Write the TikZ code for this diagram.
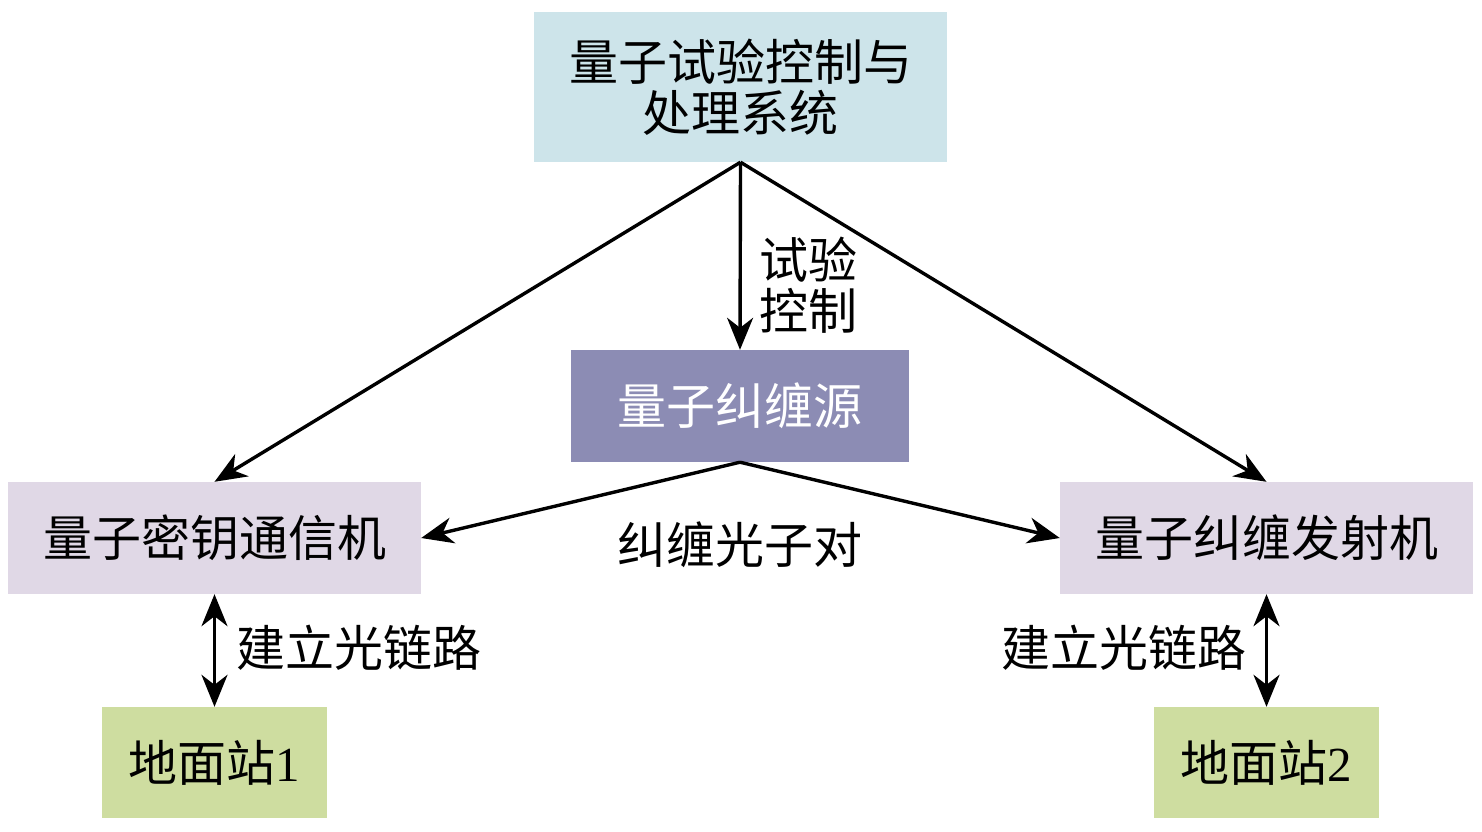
\documentclass[tikz,border=0pt]{standalone}
\usepackage{fontspec}
\setmainfont{Liberation Serif}
\newfontfamily\cjk{Noto Sans CJK SC}
\usetikzlibrary{arrows.meta}
\definecolor{ctrlblue}{RGB}{205,228,234}
\definecolor{srcpurple}{RGB}{140,140,180}
\definecolor{devlilac}{RGB}{224,216,230}
\definecolor{gsgreen}{RGB}{206,221,160}

\begin{document}
\begin{tikzpicture}
  [x=1pt,y=-1pt,every node/.style={inner sep=0pt,font=\fontsize{49}{51}\selectfont\cjk},
   box/.style={rectangle,align=center},
   link/.style={line width=3.4pt,-{Stealth[length=32pt,width=26pt,inset=10pt]}},
   duplex/.style={line width=3.4pt,{Stealth[length=32pt,width=26pt,inset=10pt]}-{Stealth[length=32pt,width=26pt,inset=10pt]}}]
  \useasboundingbox (0,0) rectangle (1482,831);
  \node[box,fill=ctrlblue,minimum width=413pt,minimum height=150pt] (ctrl) at (740.5,87) {量子试验控制与\\处理系统};
  \node[box,fill=srcpurple,text=white,minimum width=338pt,minimum height=112pt] (src) at (740,406) {量子纠缠源};
  \node[box,fill=devlilac,minimum width=413pt,minimum height=112pt] (qkd) at (214.5,538) {量子密钥通信机};
  \node[box,fill=devlilac,minimum width=413pt,minimum height=112pt] (emit) at (1266.5,538) {量子纠缠发射机};
  \node[box,fill=gsgreen,minimum width=225pt,minimum height=111pt] (gsa) at (214.5,762.5) {地面站{\rmfamily 1}};
  \node[box,fill=gsgreen,minimum width=225pt,minimum height=111pt] (gsb) at (1266.5,762.5) {地面站{\rmfamily 2}};
  \node[align=left] (test) at (808,285) {试验\\控制};
  \node (pair) at (740,545) {纠缠光子对};
  \node (linka) at (359,648) {建立光链路};
  \node (linkb) at (1124,648) {建立光链路};
  \foreach \from/\to in {ctrl.south/qkd.north,ctrl.south/src.north,ctrl.south/emit.north,src.south/qkd.east,src.south/emit.west}
    \draw[link] (\from) -- (\to);
  \draw[duplex] (qkd) -- (gsa);
  \draw[duplex] (emit) -- (gsb);
\end{tikzpicture}
\end{document}
